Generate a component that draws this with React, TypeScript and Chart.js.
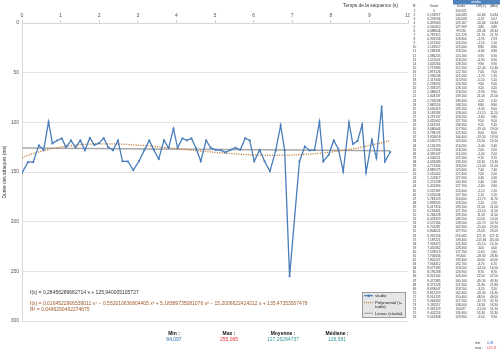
import React, { useEffect, useRef } from "react";
import { Chart, registerables } from "chart.js";

Chart.register(...registerables);

const onsets: number[] = [
  0, 0.153927, 0.291934, 0.437063, 0.560112, 0.688046, 0.787315, 0.909158, 1.027402, 1.143517,
  1.268331, 1.386205, 1.511047, 1.629264, 1.757083, 1.873126, 1.996208, 2.117344, 2.233092, 2.358175,
  2.486021, 2.604137, 2.743208, 2.882516, 3.030419, 3.169284, 3.297137, 3.415062, 3.543191, 3.680044,
  3.798176, 3.924018, 4.030275, 4.156193, 4.272306, 4.390147, 4.506221, 4.632089, 4.771304, 4.889175,
  5.015062, 5.143117, 5.271238, 5.401394, 5.529187, 5.655046, 5.783129, 5.899205, 6.017316, 6.156401,
  6.284228, 6.423319, 6.572164, 6.701287, 6.804021, 6.932156, 7.187221, 7.326473, 7.450362, 7.578519,
  7.706034, 7.805227, 7.944412, 8.077183, 8.195268, 8.322104, 8.471385, 8.571226, 8.693047, 8.812219,
  8.914135, 9.064302, 9.182117, 9.318129, 9.402216, 9.541308,
];

const durations: number[] = [
  150.921, 140.083, 140.008, 123.167, 127.969, 99.53, 121.226, 118.3, 116.2, 125.0,
  118.2, 125.1, 118.2, 128.1, 115.7, 122.7, 121.0, 115.9, 124.9, 128.1,
  118.2, 139.2, 139.4, 148.2, 139.2, 128.0, 118.2, 127.7, 136.9, 117.9,
  125.9, 106.4, 125.6, 116.2, 118.2, 116.2, 125.9, 139.2, 118.2, 125.6,
  127.6, 127.9, 130.3, 127.7, 125.6, 127.7, 116.0, 118.2, 139.2, 127.7,
  139.2, 149.2, 128.5, 102.9, 127.955, 255.065, 139.4, 124.3, 128.3, 127.7,
  99.4, 139.4, 132.7, 118.2, 126.9, 149.4, 100.1, 121.9, 118.7, 102.4,
  150.4, 117.7, 136.0, 84.097, 139.4, 129.9,
];

const xTicksMax = 10;
const yTicksMax = 300;

const linSlope = 0.28456289682714;
const linIntercept = 125.940005105727;
const polyCoefs: number[] = [135.47353507478, -15.2006622424212, 5.18389735081076, -0.553010636804405, 0.0164522966538011];

const linearText = "f(x) = 0,28456289682714 x + 125,940005105727";
const polyText = "f(x) = 0,0164522966538011 x⁴ − 0,553010636804405 x³ + 5,18389735081076 x² − 15,2006622424212 x + 135,47353507478";
const r2Text = "R² = 0,0496290462274675";

const statLabels: string[] = ["Min :", "Max :", "Moyenne :", "Médiane :"];
const statValues: string[] = ["84,097", "255,065", "127,26294737", "126,581"];
const tableHeaders: string[] = ["N°", "Onset", "Durée", "Diff(-1)", "|Abs|"];
const absMinText = "0,08";
const absMaxText = "127,11";

const BLUE = "#4a7ebb";
const ORANGE = "#c8823f";
const GRAY = "#a8a8a8";
const FONT = "'Liberation Sans', Arial, sans-serif";

const fmt = (v: number, d: number) => v.toFixed(d).replace(".", ",");

const overlay = {
  id: "overlay",
  afterDraw(chart: any) {
    const ctx: CanvasRenderingContext2D = chart.ctx;
    const ca = chart.chartArea;
    ctx.save();

    // y title
    ctx.fillStyle = "#333";
    ctx.font = `4.8px ${FONT}`;
    ctx.textAlign = "center";
    ctx.textBaseline = "middle";
    ctx.save();
    ctx.translate(5, (ca.top + ca.bottom) / 2);
    ctx.rotate(-Math.PI / 2);
    ctx.fillText("Durée des attaques (ms)", 0, 0);
    ctx.restore();

    // x title
    ctx.textAlign = "right";
    ctx.fillText("Temps de la séquence (s)", 398, 6);

    // equations
    ctx.textAlign = "left";
    ctx.font = `5px ${FONT}`;
    ctx.fillStyle = "#333";
    ctx.fillText(linearText, 30, 293);
    ctx.fillStyle = "#a0592a";
    ctx.fillText(polyText, 30, 304);
    ctx.fillText(r2Text, 30, 310);

    // legend
    const lx = 362, ly = 292, lw = 44, lh = 26;
    ctx.fillStyle = "#e6e6e6";
    ctx.fillRect(lx, ly, lw, lh);
    ctx.strokeStyle = "#8a8a8a";
    ctx.lineWidth = 0.8;
    ctx.strokeRect(lx + 0.5, ly + 0.5, lw - 1, lh - 1);
    ctx.font = `4.3px ${FONT}`;
    ctx.fillStyle = "#222";
    ctx.textAlign = "left";
    ctx.strokeStyle = BLUE;
    ctx.lineWidth = 1.2;
    ctx.beginPath(); ctx.moveTo(364, 295.7); ctx.lineTo(373, 295.7); ctx.stroke();
    ctx.fillStyle = BLUE;
    ctx.fillRect(367.5, 294.5, 2.4, 2.4);
    ctx.fillStyle = "#222";
    ctx.fillText("studio", 375, 295.9);
    ctx.strokeStyle = ORANGE;
    ctx.setLineDash([1, 1]);
    ctx.beginPath(); ctx.moveTo(364, 302.7); ctx.lineTo(373, 302.7); ctx.stroke();
    ctx.setLineDash([]);
    ctx.fillText("Polynomial (s-", 375, 302.9);
    ctx.fillText("tudio)", 375, 307);
    ctx.strokeStyle = GRAY;
    ctx.beginPath(); ctx.moveTo(364, 313.3); ctx.lineTo(373, 313.3); ctx.stroke();
    ctx.fillText("Linear (studio)", 375, 313.5);

    // stats
    const statX = [174, 229, 283, 337];
    const statColors = ["#2f6db5", "#e03131", "#3a9a9a", "#3a9a9a"];
    ctx.textAlign = "center";
    for (let i = 0; i < statLabels.length; i++) {
      ctx.font = `bold 5px ${FONT}`;
      ctx.fillStyle = "#111";
      ctx.fillText(statLabels[i], statX[i], 334);
      ctx.font = `5px ${FONT}`;
      ctx.fillStyle = statColors[i];
      ctx.fillText(statValues[i], statX[i], 340);
    }

    // table
    ctx.fillStyle = "#fff";
    ctx.fillRect(410, 0, 90, 354);
    ctx.fillStyle = "#4f81bd";
    ctx.fillRect(453, 0, 47, 4.5);
    ctx.fillStyle = "#fff";
    ctx.font = `3.5px ${FONT}`;
    ctx.fillText("studio", 476, 2.3);
    const colX = [414.5, 434, 461, 481, 494];
    ctx.fillStyle = "#3a3a3a";
    ctx.font = `3.2px ${FONT}`;
    for (let c = 0; c < tableHeaders.length; c++) {
      ctx.fillText(tableHeaders[c], colX[c], 6.5);
    }
    const rowH = 4.09;
    for (let i = 0; i < durations.length; i++) {
      const y = 10.7 + i * rowH;
      ctx.fillText(String(i + 1), colX[0], y);
      ctx.fillText(i === 0 ? "0" : fmt(onsets[i], 6), colX[1], y);
      ctx.fillText(fmt(durations[i], 3), colX[2], y);
      if (i > 0) {
        const d = durations[i] - durations[i - 1];
        ctx.fillText(fmt(d, 2), colX[3], y);
        ctx.fillText(fmt(Math.abs(d), 2), colX[4], y);
      }
    }
    ctx.textAlign = "left";
    ctx.fillText("min :", 475, 343.3);
    ctx.fillText("max :", 475, 347.7);
    ctx.fillStyle = "#2f6db5";
    ctx.fillText(absMinText, 487, 343.3);
    ctx.fillStyle = "#e03131";
    ctx.fillText(absMaxText, 487, 347.7);

    ctx.restore();
  },
};

export default function App() {
  const ref = useRef<HTMLCanvasElement | null>(null);
  useEffect(() => {
    if (!ref.current) return;
    const studio = onsets.map((x, i) => ({ x, y: durations[i] }));
    const last = onsets[onsets.length - 1];
    const linear = [
      { x: 0, y: linIntercept },
      { x: last, y: linIntercept + linSlope * last },
    ];
    const poly = onsets.map((x) => ({
      x,
      y: polyCoefs.reduce((s, c, k) => s + c * Math.pow(x, k), 0),
    }));
    const chart = new Chart(ref.current, {
      type: "line",
      data: {
        datasets: [
          {
            label: "studio",
            data: studio,
            borderColor: BLUE,
            backgroundColor: BLUE,
            borderWidth: 1.3,
            pointStyle: "rect",
            pointRadius: 1.3,
            pointBorderWidth: 0,
            tension: 0,
          },
          {
            label: "Polynomial (studio)",
            data: poly,
            borderColor: ORANGE,
            borderWidth: 1.3,
            borderDash: [1.2, 1.2],
            pointRadius: 0,
            tension: 0.4,
          },
          {
            label: "Linear (studio)",
            data: linear,
            borderColor: GRAY,
            borderWidth: 1.5,
            pointRadius: 0,
          },
        ],
      },
      options: {
        responsive: false,
        animation: false,
        layout: { padding: { left: 0, top: 0, right: 92, bottom: 33 } },
        plugins: { legend: { display: false }, tooltip: { enabled: false } },
        scales: {
          x: {
            type: "linear",
            position: "top",
            min: 0,
            max: xTicksMax,
            ticks: { stepSize: 1, font: { size: 5, family: FONT }, color: "#555", padding: 1 },
            grid: { drawOnChartArea: false, drawTicks: true, tickLength: 3, color: "#d0d0d0" },
            border: { display: true, color: "#d8d8d8" },
            afterFit: (s: any) => { s.height = 23; },
          },
          y: {
            reverse: true,
            min: 0,
            max: yTicksMax,
            ticks: { stepSize: 50, font: { size: 5, family: FONT }, color: "#555", padding: 3 },
            grid: { color: "#e2e2e2", drawTicks: false },
            border: { display: true, color: "#d8d8d8" },
            afterFit: (s: any) => { s.width = 22; },
          },
        },
      },
      plugins: [overlay],
    } as any);
    return () => chart.destroy();
  }, []);
  return (
    <div style={{ position: "absolute", left: 0, top: 0, width: 500, height: 354, background: "#fff" }}>
      <canvas ref={ref} width={500} height={354} />
    </div>
  );
}
